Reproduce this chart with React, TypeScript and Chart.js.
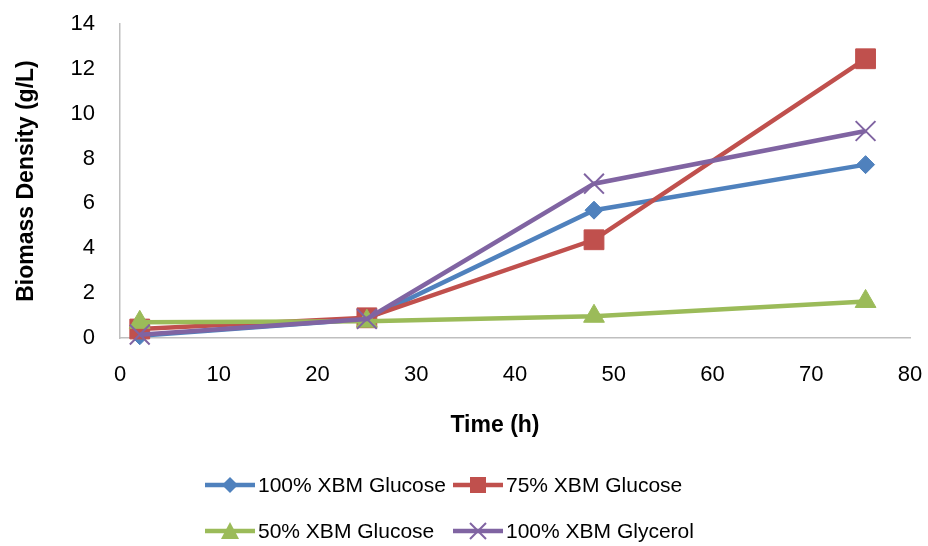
import { useEffect, useRef } from "react";
import { Chart, registerables } from "chart.js";

Chart.register(...registerables);

const timeHours = [2, 25, 48, 75.5];
const glucose100 = [0.1, 0.85, 5.7, 7.73];
const glucose75 = [0.4, 0.9, 4.38, 12.45];
const glucose50 = [0.7, 0.75, 0.97, 1.63];
const glycerol100 = [0.15, 0.85, 6.88, 9.23];

const seriesNames = [
  "100% XBM Glucose",
  "75% XBM Glucose",
  "50% XBM Glucose",
  "100% XBM Glycerol",
];
const seriesColors = ["#4F81BD", "#C0504D", "#9BBB59", "#8064A2"];
const seriesValues = [glucose100, glucose75, glucose50, glycerol100];

const xTitle = "Time (h)";
const yTitle = "Biomass Density (g/L)";

const FONT = "'Liberation Sans', Arial, sans-serif";

function drawMarker(ctx: CanvasRenderingContext2D, kind: number, x: number, y: number, color: string) {
  ctx.save();
  ctx.fillStyle = color;
  ctx.strokeStyle = color;
  ctx.beginPath();
  if (kind === 0) {
    const r = 8;
    ctx.moveTo(x, y - r);
    ctx.lineTo(x + r, y);
    ctx.lineTo(x, y + r);
    ctx.lineTo(x - r, y);
    ctx.closePath();
    ctx.fill();
  } else if (kind === 1) {
    const s = 8;
    ctx.rect(x - s, y - s, 2 * s, 2 * s);
    ctx.fill();
  } else if (kind === 2) {
    const w = 9;
    ctx.moveTo(x, y - 9);
    ctx.lineTo(x + w, y + 8);
    ctx.lineTo(x - w, y + 8);
    ctx.closePath();
    ctx.fill();
  } else {
    const r = 8;
    ctx.lineWidth = 2;
    ctx.moveTo(x - r, y - r);
    ctx.lineTo(x + r, y + r);
    ctx.moveTo(x + r, y - r);
    ctx.lineTo(x - r, y + r);
    ctx.stroke();
  }
  ctx.restore();
}

const legendAndTitlePlugin = {
  id: "legendAndTitle",
  afterDraw(chart: any) {
    const ctx: CanvasRenderingContext2D = chart.ctx;
    const positions = [
      [205, 485],
      [453, 485],
      [205, 531],
      [453, 531],
    ];
    ctx.save();
    chart.data.datasets.forEach((ds: any, i: number) => {
      const [lx, ly] = positions[i];
      ctx.strokeStyle = ds.borderColor;
      ctx.lineWidth = 4.5;
      ctx.beginPath();
      ctx.moveTo(lx, ly);
      ctx.lineTo(lx + 50, ly);
      ctx.stroke();
      drawMarker(ctx, i, lx + 25, ly, ds.borderColor);
      ctx.fillStyle = "#000000";
      ctx.font = `21px ${FONT}`;
      ctx.textAlign = "left";
      ctx.textBaseline = "middle";
      ctx.fillText(ds.label, lx + 53, ly + 1);
    });
    ctx.font = `bold 23px ${FONT}`;
    ctx.textAlign = "center";
    ctx.textBaseline = "middle";
    ctx.fillStyle = "#000000";
    ctx.fillText(xTitle, 495, 426);
    ctx.restore();
  },
};

export default function App() {
  const canvasRef = useRef<HTMLCanvasElement | null>(null);

  useEffect(() => {
    if (!canvasRef.current) return;
    const pointStyles = ["rectRot", "rect", "triangle", "crossRot"];
    const pointRadii = [9, 14, 12, 14];
    const chart = new Chart(canvasRef.current, {
      type: "line",
      data: {
        datasets: seriesNames.map((name, i) => ({
          label: name,
          data: timeHours.map((t, j) => ({ x: t, y: seriesValues[i][j] })),
          borderColor: seriesColors[i],
          backgroundColor: seriesColors[i],
          borderWidth: 4.5,
          pointStyle: pointStyles[i],
          pointRadius: pointRadii[i],
          pointHoverRadius: pointRadii[i],
          pointBorderWidth: i === 3 ? 2 : 1,
          pointBorderColor: seriesColors[i],
          pointBackgroundColor: seriesColors[i],
          tension: 0,
          clip: false as any,
          order: 4 - i,
        })),
      },
      options: {
        responsive: false,
        animation: false,
        events: [],
        layout: { autoPadding: false, padding: { top: 24, right: 18, bottom: 98, left: 0 } },
        plugins: {
          legend: { display: false },
          tooltip: { enabled: false },
          title: { display: false },
        },
        scales: {
          x: {
            type: "linear",
            min: 0,
            max: 80,
            ticks: {
              stepSize: 10,
              padding: 16,
              color: "#000000",
              font: { family: FONT, size: 22 },
            },
            grid: { display: false },
            border: { display: true, color: "#BFBFBF", width: 1.5 },
            afterFit: (scale: any) => {
              scale.height = 110;
              scale.paddingLeft = 0;
              scale.paddingRight = 0;
            },
          },
          y: {
            type: "linear",
            min: 0,
            max: 14,
            ticks: {
              stepSize: 2,
              padding: 17,
              color: "#000000",
              font: { family: FONT, size: 22 },
            },
            grid: { display: false },
            border: { display: true, color: "#BFBFBF", width: 1.5 },
            title: {
              display: true,
              text: yTitle,
              color: "#000000",
              font: { family: FONT, size: 23, weight: "bold" },
              padding: { top: 13, bottom: 0 },
            },
            afterFit: (scale: any) => {
              scale.width = 120;
              scale.paddingTop = 0;
              scale.paddingBottom = 0;
            },
          },
        },
      },
      plugins: [legendAndTitlePlugin],
    });
    return () => chart.destroy();
  }, []);

  return (
    <div style={{ position: "absolute", left: 0, top: 0, width: 928, height: 546, background: "#ffffff" }}>
      <canvas ref={canvasRef} width={928} height={546} style={{ display: "block" }} />
    </div>
  );
}
